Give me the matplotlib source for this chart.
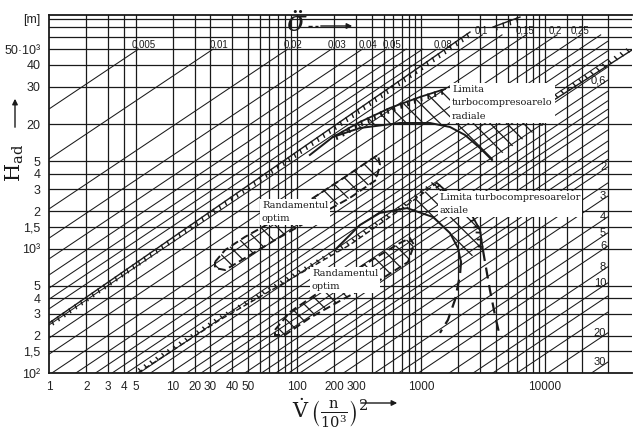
import matplotlib
matplotlib.use('Agg')
import matplotlib.pyplot as plt
import matplotlib.patheffects as pe
from matplotlib.patches import Polygon
import numpy as np

plt.rcParams['mathtext.fontset'] = 'dejavuserif'
plt.rcParams['hatch.linewidth'] = 0.9
plt.rcParams['hatch.color'] = '#111111'

# axis ticks, labelled as printed on the scan
x_ticks = [1, 2, 3, 4, 5, 10, 15, 20, 30, 40, 100, 200, 300, 1000, 10000]
x_labels = ['1', '2', '3', '4', '5', '10', '20', '30', '40', '50',
            '100', '200', '300', '1000', '10000']
y_ticks = [100, 150, 200, 300, 400, 500, 1000, 1500, 2000, 3000, 4000, 5000,
           10000, 20000, 30000, 40000, 70000]
y_labels = ['10²', '1,5', '2', '3', '4', '5', '10³', '1,5', '2', '3', '4', '5',
            '20', '30', '40', '50·10³', '[m]']

# nomogram grid
v_grid = [2, 3, 4, 5, 10, 15, 20, 30, 40, 50, 60, 70, 80, 90, 100,
          200, 300, 400, 500, 600, 700, 800, 900, 1000,
          2000, 3000, 4000, 5000, 6000, 7000, 8000, 9000, 10000,
          15000, 20000, 32000]
h_grid = [150, 200, 300, 400, 500, 1000, 1500, 2000, 3000, 4000, 5000,
          10000, 20000, 30000, 40000, 50000, 60000, 70000]

# sigma lines  H = k * V^(2/3) * (sigma/0.005)^(-4/3)
k_sigma = 13200.0
sigma_top = [0.005, 0.01, 0.02, 0.03, 0.04, 0.05, 0.08, 0.1, 0.15, 0.2, 0.25]
sigma_top_txt = ['0,005', '0,01', '0,02', '0,03', '0,04', '0,05', '0,08',
                 '0,1', '0,15', '0,2', '0,25']
sigma_right = [0.6, 2, 3, 4, 5, 6, 8, 10, 20, 30]
sigma_right_txt = ['0,6', '2', '3', '4', '5', '6', '8', '10', '20', '30']
sigma_plain = [0.06, 0.07, 0.12, 0.3, 0.35, 0.4, 0.45, 0.5, 0.7, 0.8, 0.9, 1.0,
               1.2, 1.4, 1.6, 1.8, 2.5, 12, 15]

# boundary lines
limit_top_v = [1, 2485]
limit_top_h = [252, 54800]
limit_top2_v = [3810, 6285]
limit_top2_h = [60100, 72300]
limit_right_v = [9640, 50350]
limit_right_h = [13700, 39300]
limit_dash_v = [5.2, 23.9, 267, 771, 1346]
limit_dash_h = [100, 267, 1070, 2230, 3360]

# radial compressor limit
rad_top_v = [195, 322, 562, 981, 1562]
rad_top_h = [7870, 10380, 13450, 16480, 19100]
rad_arc_v = [127, 195, 322, 677, 1183, 1714, 2263, 2992, 3739]
rad_arc_h = [5640, 7870, 9290, 10190, 10190, 9460, 8170, 6410, 5140]
rad_zone_v = [195, 322, 562, 981, 1562, 10570, 10570, 3739, 2992, 2263, 1714,
              1183, 677, 322, 195]
rad_zone_h = [7870, 10380, 13450, 16480, 19100, 19100, 10380, 5140, 6410, 8170,
              9460, 10190, 10190, 9290, 7870]

# axial compressor limit
ax_outer_v = [1346, 1811, 2485, 2992, 3162]
ax_outer_h = [3360, 2590, 1965, 1410, 972]
ax_outer_dash_v = [3162, 3283, 3600, 3953, 4335]
ax_outer_dash_h = [972, 780, 464, 292, 195]
ax_inner_v = [202, 322, 467, 771, 1250, 1714, 1988, 2102]
ax_inner_h = [972, 1545, 1930, 2110, 1790, 1330, 1009, 780]
ax_inner_dash_v = [2102, 2064, 1880, 1650, 1423]
ax_inner_dash_h = [780, 612, 386, 267, 210]
ax_zone_v = [771, 1346, 1811, 2485, 2992, 3162, 2102, 1988, 1714, 1250, 771]
ax_zone_h = [2230, 3360, 2590, 1965, 1410, 972, 780, 1009, 1330, 1790, 2110]

# optimum efficiency zones
opt1_v = [21.8, 26.3, 38.1, 66.5, 127, 244, 388, 450, 467, 434, 267, 127,
          66.5, 38.1, 26.3, 21.8]
opt1_h = [780, 972, 1240, 1690, 2450, 3750, 5140, 5640, 4690, 3550, 2550, 1690,
          1170, 839, 672, 697]
opt2_v = [66.5, 87.9, 140, 244, 426, 677, 815, 879, 786, 467, 244, 127, 80, 66.5]
opt2_h = [222, 309, 424, 590, 839, 1107, 1210, 1070, 780, 558, 400, 277, 202, 202]

V_MIN, V_MAX, V_END = 1, 50350, 32000
H_MIN, H_MAX = 100, 75100
H_TOP_LOW, H_TOP_HIGH = 40000, 52000   # line ends below / above sigma = 0.1

fig = plt.figure(figsize=(6.33, 4.47), dpi=100)
ax = fig.add_axes([49 / 633, 74 / 447, 583 / 633, 358 / 447])
ax.set_xscale('log')
ax.set_yscale('log')
ax.set_xlim(V_MIN, V_MAX)
ax.set_ylim(H_MIN, H_MAX)

ink = '#1a1a1a'
for v in v_grid:
    ax.axvline(v, color=ink, lw=0.9, zorder=1)
for h in h_grid:
    ax.axhline(h, color=ink, lw=0.9, zorder=1)


def sigma_ends(s):
    c = k_sigma * (s / 0.005) ** (-4.0 / 3.0)
    h_top = H_TOP_LOW if s < 0.1 else H_TOP_HIGH
    v0 = max(V_MIN, (H_MIN / c) ** 1.5)
    v1 = min(V_END, (h_top / c) ** 1.5)
    return np.array([v0, v1]), c * np.array([v0, v1]) ** (2.0 / 3.0)


for s in sigma_top + sigma_right + sigma_plain:
    vv, hh = sigma_ends(s)
    ax.plot(vv, hh, color=ink, lw=0.75, zorder=2)

for s, t in zip(sigma_top, sigma_top_txt):
    vv, hh = sigma_ends(s)
    dx = 4 if s < 0.1 else -1
    ax.annotate(t, (vv[1], hh[1]), xytext=(dx, 3), textcoords='offset points',
                ha='center', va='center', fontsize=7, family='Liberation Sans',
                color=ink, zorder=6)
for s, t in zip(sigma_right, sigma_right_txt):
    vv, hh = sigma_ends(s)
    ax.annotate(t, (vv[1], hh[1]), xytext=(-1, 0), textcoords='offset points',
                ha='right', va='center', fontsize=8, family='Liberation Sans',
                color=ink, zorder=6)

tick_dn = [pe.withTickedStroke(angle=-100, spacing=5, length=0.55)]
tick_up = [pe.withTickedStroke(angle=100, spacing=5, length=0.55)]
ax.plot(limit_top_v, limit_top_h, color=ink, lw=1.0, path_effects=tick_dn, zorder=4)
ax.plot(limit_top2_v, limit_top2_h, color=ink, lw=1.0, path_effects=tick_dn, zorder=4)
ax.plot(limit_right_v, limit_right_h, color=ink, lw=1.0, path_effects=tick_up, zorder=4)
ax.plot(limit_dash_v, limit_dash_h, color=ink, lw=1.0, ls=(0, (4, 2)),
        path_effects=tick_up, zorder=4)

# radial limit
ax.add_patch(Polygon(np.column_stack([rad_zone_v, rad_zone_h]), closed=True,
                     facecolor='none', edgecolor=ink, lw=0, hatch='\\\\', zorder=3))
ax.plot(rad_top_v, rad_top_h, color=ink, lw=1.3, path_effects=tick_dn, zorder=4)
ax.plot(rad_arc_v, rad_arc_h, color=ink, lw=1.4, zorder=4)

# axial limit
ax.add_patch(Polygon(np.column_stack([ax_zone_v, ax_zone_h]), closed=True,
                     facecolor='none', edgecolor=ink, lw=0, hatch='\\\\', zorder=3))
ax.plot(ax_outer_v, ax_outer_h, color=ink, lw=1.3, path_effects=tick_dn, zorder=4)
ax.plot(ax_outer_dash_v, ax_outer_dash_h, color=ink, lw=1.6, ls=(0, (5, 3)), zorder=4)
ax.plot(ax_inner_v, ax_inner_h, color=ink, lw=1.4, zorder=4)
ax.plot(ax_inner_dash_v, ax_inner_dash_h, color=ink, lw=1.6, ls=(0, (5, 3)), zorder=4)

# optimum efficiency zones
for zv, zh in [(opt1_v, opt1_h), (opt2_v, opt2_h)]:
    ax.add_patch(Polygon(np.column_stack([zv, zh]), closed=True, facecolor='none',
                         edgecolor=ink, lw=1.4, ls=(0, (4, 2)), hatch='\\\\',
                         zorder=3))

box = dict(facecolor='white', edgecolor='none', pad=1.5)
lab = dict(fontsize=7, family='DejaVu Serif', color=ink, ha='left', va='center',
           linespacing=1.6, bbox=box, zorder=7)
ax.text(1778, 14760, 'Limita\nturbocompresoarelo\nradiale', **lab)
ax.text(52.2, 1965, 'Randamentul\noptim', **lab)
ax.text(132, 558, 'Randamentul\noptim', **lab)
ax.text(1423, 2275, 'Limita turbocompresoarelor\naxiale', **lab)

ax.set_xticks(x_ticks)
ax.set_xticklabels(x_labels, fontsize=8.5, family='Liberation Sans', color='#222')
ax.set_yticks(y_ticks)
ax.set_yticklabels(y_labels, fontsize=9, family='Liberation Sans', color='#222')
ax.xaxis.set_minor_locator(matplotlib.ticker.NullLocator())
ax.yaxis.set_minor_locator(matplotlib.ticker.NullLocator())
ax.tick_params(length=0, pad=6)
ax.spines['right'].set_visible(False)
for sp in ['left', 'bottom', 'top']:
    ax.spines[sp].set_linewidth(1.3)
    ax.spines[sp].set_color(ink)

fig.text(15 / 633, 1 - 163 / 447, r'$\mathrm{H_{ad}}$', rotation=90, fontsize=15,
         ha='center', va='center', color=ink)
fig.text(330 / 633, 1 - 413 / 447, r'$\dot{\mathrm{V}}\,\left(\frac{\mathrm{n}}{10^3}\right)^2$',
         fontsize=15, ha='center', va='center', color=ink)
fig.text(297 / 633, 1 - 24 / 447, r'$\ddot{\sigma}$', fontsize=20,
         ha='center', va='center', color=ink)
arrow = dict(arrowstyle='-|>', lw=1.0, color=ink, mutation_scale=8)
ax.annotate('', xy=(15 / 633, 1 - 96 / 447), xytext=(15 / 633, 1 - 130 / 447),
            xycoords='figure fraction', textcoords='figure fraction', arrowprops=arrow)
ax.annotate('', xy=(400 / 633, 1 - 403 / 447), xytext=(358 / 633, 1 - 403 / 447),
            xycoords='figure fraction', textcoords='figure fraction', arrowprops=arrow)
ax.annotate('', xy=(355 / 633, 1 - 26 / 447), xytext=(318 / 633, 1 - 26 / 447),
            xycoords='figure fraction', textcoords='figure fraction', arrowprops=arrow)
fig.add_artist(plt.Line2D([308 / 633, 318 / 633], [1 - 26 / 447, 1 - 26 / 447],
                          color=ink, lw=1.0, ls=(0, (3, 2))))

fig.savefig('out.png', dpi=100)
